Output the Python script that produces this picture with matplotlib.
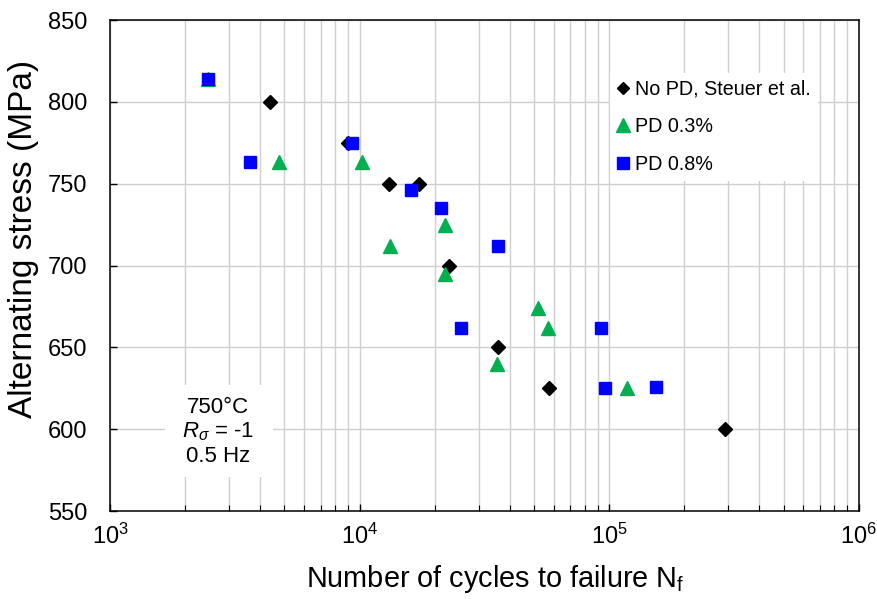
import matplotlib
matplotlib.use("Agg")
import matplotlib.pyplot as plt
import numpy as np
from matplotlib.ticker import LogLocator, NullFormatter, MultipleLocator
from matplotlib.patches import Rectangle

plt.rcParams['font.family'] = ['Liberation Sans', 'DejaVu Sans']
plt.rcParams['mathtext.fontset'] = 'custom'
plt.rcParams['mathtext.rm'] = 'Liberation Sans'
plt.rcParams['mathtext.it'] = 'Liberation Sans:italic'
plt.rcParams['mathtext.bf'] = 'Liberation Sans:bold'

# No PD, Steuer et al.
n_nopd = [4370, 8950, 13100, 17270, 22770, 35970, 57170, 291000]
s_nopd = [800, 775, 750, 750, 700, 650, 625, 600]

# PD 0.3%
n_pd03 = [2466, 4740, 10250, 13270, 22080, 22000, 35560, 52000, 56650, 118400]
s_pd03 = [814, 763, 763, 712, 725, 695, 640, 674, 662, 625]

# PD 0.8%
n_pd08 = [2475, 3640, 9290, 16100, 21280, 35970, 25430, 92650, 96100, 154600]
s_pd08 = [814, 763, 775, 746, 735, 712, 662, 662, 625, 626]

fig = plt.figure(figsize=(8.78, 5.99), dpi=100)
ax = fig.add_axes([0.1253, 0.1469, 0.978 - 0.1253, 0.9666 - 0.1469])

ax.plot(n_nopd, s_nopd, 'D', color='black', ms=6.8, ls='none',
        label='No PD, Steuer et al.', zorder=3)
ax.plot(n_pd03, s_pd03, '^', color='#00B050', ms=10.5, ls='none',
        label='PD 0.3%', zorder=4)
ax.plot(n_pd08, s_pd08, 's', color='#0000FF', ms=9.2, ls='none',
        label='PD 0.8%', zorder=5)

ax.set_xscale('log')
ax.set_xlim(1e3, 1e6)
ax.set_ylim(550, 850)
ax.yaxis.set_major_locator(MultipleLocator(50))
ax.xaxis.set_major_locator(LogLocator(base=10))
ax.xaxis.set_minor_locator(LogLocator(base=10, subs=np.arange(2, 10)))
ax.xaxis.set_minor_formatter(NullFormatter())

ax.grid(True, which='major', axis='both', color='#cfcfcf', lw=1.0, zorder=0)
ax.grid(True, which='minor', axis='x', color='#cfcfcf', lw=1.0, zorder=0)
ax.set_axisbelow(True)

ax.tick_params(axis='both', which='major', direction='in', length=5,
               width=1, labelsize=17)
ax.tick_params(axis='x', which='minor', direction='in', length=4, width=0.8)
ax.tick_params(axis='x', which='major', pad=9)
ax.tick_params(axis='y', which='major', pad=16.5)
for sp in ax.spines.values():
    sp.set_linewidth(1.1)

ax.set_xlabel('Number of cycles to failure N$_\\mathrm{f}$', fontsize=20.8)
ax.xaxis.set_label_coords(0.514, -0.106)
ax.set_ylabel('Alternating stress (MPa)', fontsize=24)
ax.yaxis.set_label_coords(-0.095, 0.554)

leg = ax.legend(loc='upper left', bbox_to_anchor=(0.655, 0.912), fontsize=14.2,
                frameon=True, fancybox=False, handlelength=0.6,
                handletextpad=0.3, labelspacing=0.93, borderpad=0.35,
                markerscale=0.95)
leg.get_frame().set_facecolor('white')
leg.get_frame().set_edgecolor('none')
leg.get_frame().set_alpha(1)

ax.add_patch(Rectangle((0.0734, 0.0692), 0.1442, 0.1874, transform=ax.transAxes,
                       facecolor='white', edgecolor='none', zorder=2))
ax.text(0.144, 0.161, '750°C\n$R_\\sigma$ = -1\n0.5 Hz', transform=ax.transAxes,
        ha='center', va='center', fontsize=16, linespacing=1.15, zorder=6)

fig.savefig('out.png', dpi=100)
